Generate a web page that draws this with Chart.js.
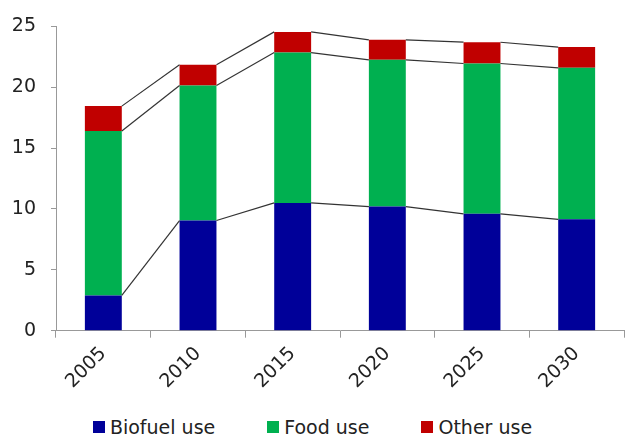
<!DOCTYPE html>
<html>
<head>
<meta charset="utf-8">
<script src="https://cdn.jsdelivr.net/npm/chart.js@4/dist/chart.umd.min.js"></script>
<style>
  body { margin: 0; background: #fff; font-family: "DejaVu Sans", Verdana, sans-serif; }
  #wrap { position: relative; width: 625px; height: 439px; }
  #box { position: absolute; left: 0; top: 0; width: 625px; height: 400px; }
  #legend { position: absolute; left: 0; top: 416px; width: 625px; display: flex; justify-content: center; gap: 52px; font-size: 19px; color: #222; }
  #legend span.item { display: flex; align-items: center; }
  #legend i { display: inline-block; width: 12px; height: 12px; margin-right: 5px; }
</style>
</head>
<body>
<div id="wrap">
  <div id="box"><canvas id="chart"></canvas></div>
  <div id="legend"></div>
</div>
<script>
const years = ["2005", "2010", "2015", "2020", "2025", "2030"];
const biofuelUse = [2.9, 9.05, 10.5, 10.2, 9.6, 9.15];
const foodUse = [13.5, 11.1, 12.35, 12.05, 12.35, 12.45];
const otherUse = [2.05, 1.7, 1.7, 1.65, 1.75, 1.7];
const seriesNames = ["Biofuel use", "Food use", "Other use"];
const seriesColors = ["#000099", "#00B050", "#C00000"];

//Excel-style series lines joining the tops of the stacked segments
const seriesLines = {
  id: 'seriesLines',
  afterDatasetsDraw(chart) {
    const ctx = chart.ctx;
    ctx.save();
    ctx.strokeStyle = '#333';
    ctx.lineWidth = 1.2;
    chart.data.datasets.forEach((ds, i) => {
      const bars = chart.getDatasetMeta(i).data;
      for (let j = 0; j < bars.length - 1; j++) {
        const a = bars[j], b = bars[j + 1];
        ctx.beginPath();
        ctx.moveTo(a.x + a.width / 2, a.y);
        ctx.lineTo(b.x - b.width / 2, b.y);
        ctx.stroke();
      }
    });
    ctx.restore();
  }
};

const allSeries = [biofuelUse, foodUse, otherUse];

const chartData = {
  labels: years,
  datasets: allSeries.map((vals, i) => ({
    label: seriesNames[i],
    data: vals,
    backgroundColor: seriesColors[i],
    borderWidth: 0,
    categoryPercentage: 1,
    barPercentage: 0.39
  }))
};

const chartOptions = {
  responsive: true,
  maintainAspectRatio: false,
  animation: false,
  layout: {
    padding: { top: 9, left: 11, right: 1, bottom: 2 }
  },
  scales: {
    x: {
      stacked: true,
      border: { color: '#999', width: 1 },
      grid: { drawOnChartArea: false, tickLength: 7, color: '#999' },
      ticks: {
        color: '#222',
        font: { family: "DejaVu Sans", size: 19 },
        minRotation: 45,
        maxRotation: 45,
        padding: 5
      },
      afterFit(scale) {
        scale.paddingLeft = 0;
        scale.paddingRight = 0;
      }
    },
    y: {
      stacked: true,
      min: 0,
      max: 25,
      border: { color: '#999', width: 1 },
      grid: { drawOnChartArea: false, tickLength: 5, color: '#999' },
      ticks: {
        stepSize: 5,
        color: '#222',
        font: { family: "DejaVu Sans", size: 19 },
        padding: 15
      },
      afterFit(scale) {
        scale.width = 45;
      }
    }
  },
  plugins: {
    legend: { display: false },
    tooltip: { enabled: false }
  }
};

const biofuelChart = new Chart(document.getElementById("chart"), {
  type: 'bar',
  data: chartData,
  options: chartOptions,
  plugins: [seriesLines]
});

//Legend
const legendBox = document.getElementById("legend");
seriesNames.forEach((name, i) => {
  const item = document.createElement("span");
  item.className = "item";
  const sw = document.createElement("i");
  sw.style.background = seriesColors[i];
  item.appendChild(sw);
  item.appendChild(document.createTextNode(name));
  legendBox.appendChild(item);
});
</script>
</body>
</html>
